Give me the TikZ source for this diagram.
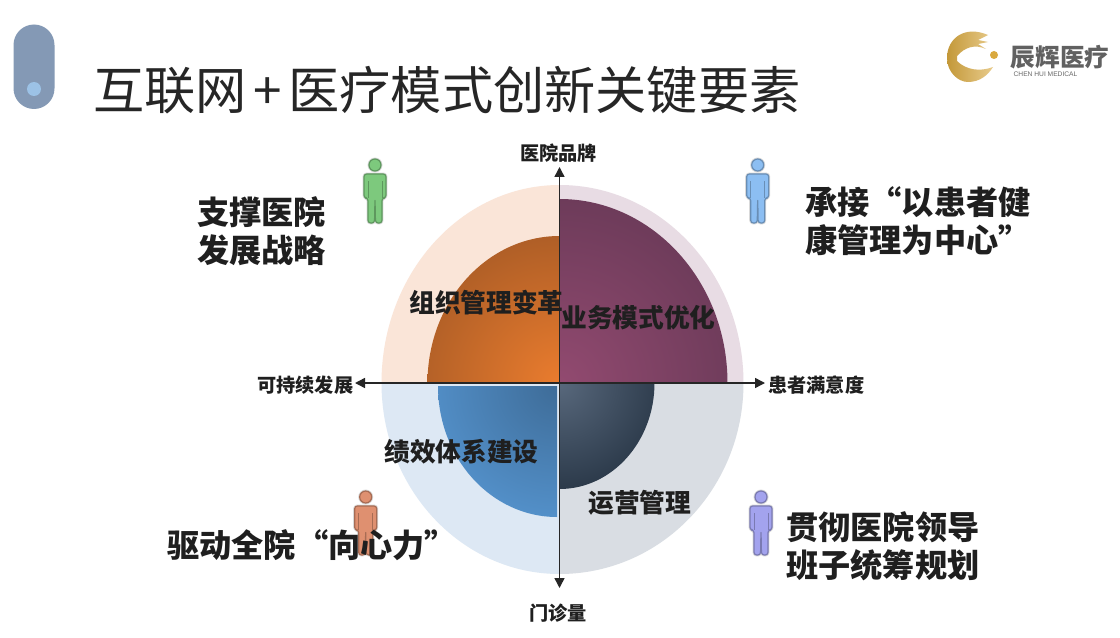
\documentclass[tikz,border=0pt]{standalone}
\usepackage{fontspec}
\setmainfont{Noto Sans CJK SC}
\newfontfamily\logofont{Liberation Sans}
\usetikzlibrary{arrows.meta}
\definecolor{logogold}{HTML}{D9A93F}
\definecolor{capsule}{HTML}{8499B5}
\definecolor{capsuledot}{HTML}{9CC2E6}
\definecolor{mangreen}{HTML}{7DC97D}
\definecolor{manblue}{HTML}{8CBEF2}
\definecolor{manred}{HTML}{DF9070}
\definecolor{manviolet}{HTML}{A3A3EE}
\tikzset{
    titletxt/.style={anchor=west,inner sep=0,text=black!85,font=\fontsize{38.4}{44}\selectfont},
    sidetxt/.style={anchor=west,inner sep=0,align=left,text=black!88,font=\fontsize{24.15}{28.5}\selectfont\bfseries},
    parttxt/.style={anchor=west,inner sep=0,text=black!88,font=\fontsize{19.3}{23}\selectfont\bfseries},
    axistxt/.style={inner sep=0,text=black!88,font=\fontsize{14.4}{17}\selectfont\bfseries},
    axisline/.style={draw=black!85,line width=1.1pt,-{Triangle[length=7.5pt,width=7.5pt]}},
    pics/person/.style 2 args={code={
        \draw[fill=#1,draw=#2,line width=0.9pt,preaction={draw=black!15,line width=2.2pt}] (0,0) circle (6);
        \draw[fill=#1,draw=#2,line width=0.9pt,line join=round,rounded corners=2pt,preaction={draw=black!15,line width=2.2pt,line join=round}]
        (-11,9)--(11,9)--(11,33)--(7,33)--(7,58)--(0.5,58)--(0,34)--(-0.5,58)--(-7,58)--(-7,33)--(-11,33)--cycle;
        \draw[#2,line width=0.7pt] (-7,16)--(-7,33) (7,16)--(7,33);
    }}
}
\begin{document}
\begin{tikzpicture}[x=0.75pt,y=-0.75pt]
    \useasboundingbox[fill=white] (0,0) rectangle (1120,638);

    % capsule
    \fill[capsule,rounded corners=15.4pt] (13.5,24.5) rectangle (54.5,109);
    \fill[capsuledot] (34,89) circle (7);

    \node[titletxt](title) at (93,90.5){互联网\hspace{5pt}+\hspace{5pt}医疗模式创新关键要素};

    % logo
    \shade[left color=logogold!90!black,right color=logogold!60!white]
    (988,35)..controls (965,25) and (947,38) .. (947,58)
    ..controls (947,72) and (958,82) .. (968,82)
    ..controls (980,82) and (988,75) .. (993,67)
    ..controls (980,72) and (966,70) .. (957,61)
    --(957,56)
    ..controls (965,47) and (975,44) .. (986,49)
    --(978,44)--(988,42)--(978,40)--cycle;
    \fill[logogold] (994,55) circle (4);
    \node[inner sep=0,text=black!62,font=\fontsize{18.5}{20}\selectfont\bfseries](logoname) at (1060,57){辰辉医疗};
    \node[inner sep=0,text=black!60,font=\logofont\fontsize{5}{6}\selectfont](logosub) at (1045.5,74){CHEN HUI MEDICAL};

    % outer quarters
    \fill[color={rgb,255:red,250;green,229;blue,216}] (559.5,383)--(381.5,383) arc[start angle=180,end angle=270,x radius=178,y radius=198]--cycle;
    \fill[color={rgb,255:red,232;green,220;blue,228}] (559.5,383)--(559.5,185) arc[start angle=270,end angle=360,x radius=184,y radius=198]--cycle;
    \fill[color={rgb,255:red,221;green,232;blue,244}] (559.5,383)--(381.5,383) arc[start angle=180,end angle=90,x radius=178,y radius=191]--cycle;
    \fill[color={rgb,255:red,217;green,221;blue,227}] (559.5,383)--(559.5,574) arc[start angle=90,end angle=0,x radius=184,y radius=191]--cycle;

    % inner quarters
    \begin{scope}
        \clip (559.5,383)--(427.5,383) arc[start angle=180,end angle=270,x radius=132,y radius=147]--cycle;
        \shade[inner color={rgb,255:red,234;green,124;blue,46},outer color={rgb,255:red,170;green,92;blue,38}] (559.5,383) circle (160);
    \end{scope}
    \begin{scope}
        \clip (559.5,383)--(559.5,199) arc[start angle=270,end angle=360,x radius=168,y radius=184]--cycle;
        \shade[inner color={rgb,255:red,146;green,74;blue,112},outer color={rgb,255:red,106;green,58;blue,88}] (559.5,383) circle (200);
    \end{scope}
    \begin{scope}
        \clip (557,386)--(438,386) arc[start angle=180,end angle=90,x radius=119,y radius=131]--cycle;
        \shade[inner color={rgb,255:red,62;green,108;blue,152},outer color={rgb,255:red,84;green,146;blue,204}] (557,386) circle (140);
    \end{scope}
    \begin{scope}
        \clip (559.5,383)--(559.5,489) arc[start angle=90,end angle=0,x radius=95,y radius=106]--cycle;
        \shade[inner color={rgb,255:red,88;green,104;blue,124},outer color={rgb,255:red,40;green,54;blue,70}] (559.5,383) circle (115);
    \end{scope}

    % axes
    \coordinate (top) at (559.5,167);
    \coordinate (bottom) at (559.5,588);
    \coordinate (left) at (355,383);
    \coordinate (right) at (765,383);
    \coordinate (mid) at (559.5,383);
    \draw[axisline](mid)--(top);
    \draw[axisline](mid)--(bottom);
    \draw[axisline](mid)--(left);
    \draw[axisline](mid)--(right);

    \node[axistxt](brand) at (558.5,153){医院品牌};
    \node[axistxt](visits) at (558,613){门诊量};
    \node[axistxt,anchor=east](growth) at (353.5,385){可持续发展};
    \node[axistxt,anchor=west](satisfy) at (768,385){患者满意度};

    \pic at (375,165){person={mangreen}{mangreen!75!black}};
    \pic at (757.7,165){person={manblue}{manblue!75!black}};
    \pic at (365.7,497){person={manred}{manred!75!black}};
    \pic at (761,497){person={manviolet}{manviolet!75!black}};

    \node[parttxt](org) at (409,303){组织管理变革};
    \node[parttxt](biz) at (561,318){业务模式优化};
    \node[parttxt](perf) at (384,452){绩效体系建设};
    \node[parttxt](ops) at (588,503){运营管理};

    \node[sidetxt](strategy) at (197,231){支撑医院\\发展战略};
    \node[sidetxt](health) at (805,221){承接“以患者健\\康管理为中心”};
    \node[sidetxt](plan) at (786,546){贯彻医院领导\\班子统筹规划};
    \node[sidetxt](force) at (167,545){驱动全院“向心力”};
\end{tikzpicture}
\end{document}
